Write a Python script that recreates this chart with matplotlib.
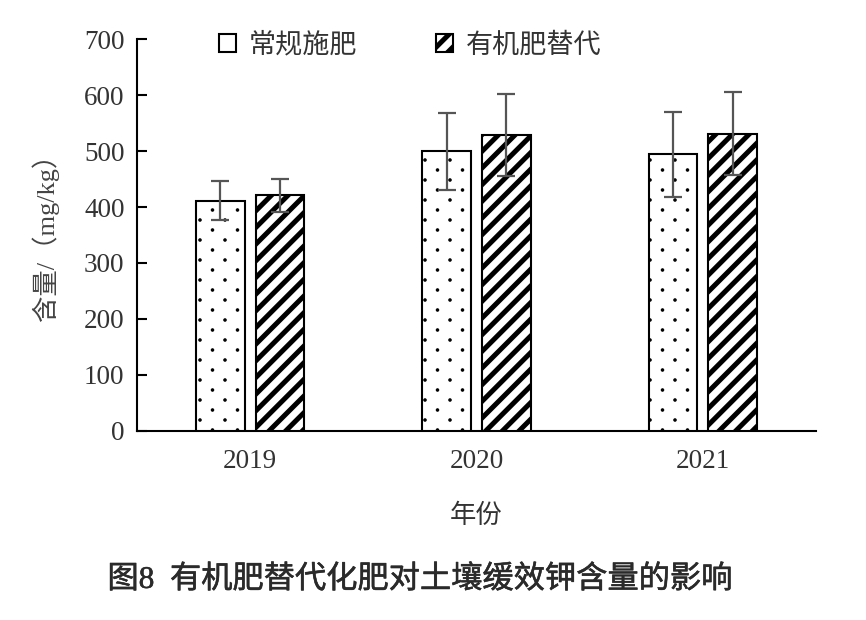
import matplotlib.pyplot as plt
import matplotlib.hatch as mhatch
import matplotlib.patheffects as pe
from matplotlib.patches import Patch
from matplotlib.path import Path
import numpy as np

years = ['2019', '2020', '2021']
conventional = [411, 500, 494]
conventional_err = [35, 69, 76]
organic = [421, 529, 531]
organic_err = [29, 74, 74]
series_names = ['常规施肥', '有机肥替代']


# sparse staggered dots, like the reference fill ('o' in the hatch string)
class SparseDots(mhatch.HatchPatternBase):
    def __init__(self, hatch, density):
        n = hatch.count('o')
        circle = Path.unit_circle()
        self.shape_vertices = circle.vertices * 0.012
        self.shape_codes = circle.codes
        self.centers = []
        if n:
            rows, cols = 10 * n, 4 * n
            for i in range(rows + 1):
                if i % 2 == 0:
                    xs = np.linspace(0, 1, cols + 1)
                else:
                    xs = np.linspace(0.5 / cols, 1 - 0.5 / cols, cols)
                self.centers += [(xx, i / rows) for xx in xs]
        self.num_vertices = len(self.centers) * len(self.shape_vertices)

    def set_vertices_and_codes(self, vertices, codes):
        k = len(self.shape_vertices)
        for j, (cx, cy) in enumerate(self.centers):
            vertices[j * k:(j + 1) * k] = self.shape_vertices + (cx, cy)
            codes[j * k:(j + 1) * k] = self.shape_codes


mhatch._hatch_types = [t for t in mhatch._hatch_types
                       if t is not mhatch.SmallCircles] + [SparseDots]

serif_cjk = ['Liberation Serif', 'Noto Sans CJK SC']
plt.rcParams['font.family'] = serif_cjk

fig = plt.figure(figsize=(8.66, 6.2), dpi=100)
ax = fig.add_axes([0.1582, 0.3053, 0.7841, 0.6313])

x = np.arange(len(years))
w = 0.216
off = 0.132
err_kw = dict(ecolor='#555555', elinewidth=1.6, capsize=6.5, capthick=1.6, zorder=5)

plt.rcParams['hatch.linewidth'] = 0.8
ax.bar(x - off, conventional, w, color='white', edgecolor='black',
       linewidth=1.5, hatch='o', zorder=3)
ax.errorbar(x - off, conventional, yerr=conventional_err, fmt='none', **err_kw)

plt.rcParams['hatch.linewidth'] = 3.6
ax.bar(x + off, organic, w, color='white', edgecolor='black',
       linewidth=1.5, hatch='//', zorder=3)
ax.errorbar(x + off, organic, yerr=organic_err, fmt='none', **err_kw)

ax.set_xlim(-0.5, 2.5)
ax.set_ylim(0, 700)
ax.set_yticks(range(0, 701, 100))
ax.set_xticks(x)
ax.set_xticklabels(years)
for s in ['top', 'right']:
    ax.spines[s].set_visible(False)
for s in ['left', 'bottom']:
    ax.spines[s].set_linewidth(1.5)
ax.tick_params(axis='y', direction='in', length=7, width=1.5, pad=9,
               labelsize=19.5, labelcolor='#333333')
ax.tick_params(axis='x', length=0, pad=13, labelsize=19.5, labelcolor='#333333')

handles = [Patch(facecolor='white', edgecolor='black', linewidth=1.5),
           Patch(facecolor='white', edgecolor='black', linewidth=1.5, hatch='//')]
leg = fig.legend(handles, series_names, loc='upper left',
                 bbox_to_anchor=(0.240, 0.967), ncol=2, frameon=False,
                 prop={'family': 'Noto Sans CJK SC', 'size': 19.5},
                 handlelength=0.63, handleheight=0.63, handletextpad=0.48,
                 columnspacing=2.9, borderaxespad=0)
for t in leg.get_texts():
    t.set_color('#333333')

fig.text(0.5496, 1 - 515 / 620, '年份', ha='center', va='center',
         fontsize=19, color='#333333', family='Noto Sans CJK SC')
fig.text(45 / 866, 1 - 231 / 620, '含量/（mg/kg）', rotation=90, ha='center',
         va='center', fontsize=19, color='#444444', family=serif_cjk)
fig.text(0.485, 1 - 580 / 620, '图8  有机肥替代化肥对土壤缓效钾含量的影响',
         ha='center', va='center', fontsize=22.5, color='#2a2a2a',
         family=serif_cjk,
         path_effects=[pe.withStroke(linewidth=0.4, foreground='#2a2a2a')])

fig.savefig('out.png', dpi=100)
